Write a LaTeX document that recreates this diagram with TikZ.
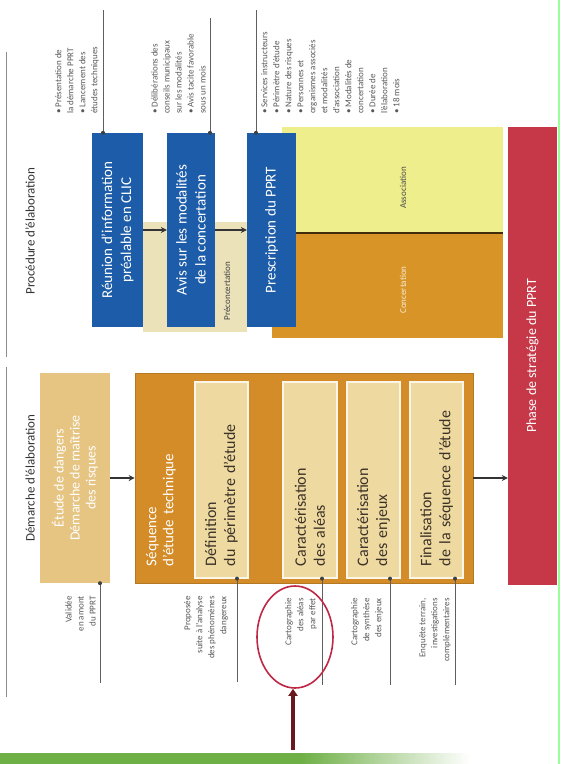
\documentclass[tikz,border=0pt]{standalone}
\usepackage{fontspec}
\setmainfont{Carlito}
\usetikzlibrary{arrows.meta,shapes.geometric}

\definecolor{pblue}{RGB}{28,92,168}
\definecolor{strip}{RGB}{236,226,186}
\definecolor{assoc}{RGB}{238,238,140}
\definecolor{conc}{RGB}{216,148,38}
\definecolor{redc}{RGB}{198,55,72}
\definecolor{etudec}{RGB}{230,196,130}
\definecolor{seqc}{RGB}{212,140,40}
\definecolor{inbeige}{RGB}{238,218,160}
\definecolor{grn}{RGB}{110,175,70}
\definecolor{circred}{RGB}{190,40,70}
\definecolor{darkred}{RGB}{105,25,30}
\definecolor{ink}{RGB}{60,50,40}
\definecolor{callgray}{RGB}{95,95,95}

\tikzset{
  title/.style={rotate=90, font=\fontsize{13}{15}\selectfont, text=black!80, inner sep=0pt},
  bluebox/.style={rotate=90, fill=pblue, text=white, align=center, inner sep=2pt,
    font=\fontsize{15}{19}\selectfont},
  redbox/.style={rotate=90, fill=redc, text=white, align=center, inner sep=2pt,
    font=\fontsize{14}{17}\selectfont},
  etudebox/.style={rotate=90, fill=etudec, text=white, align=center, inner sep=2pt,
    font=\fontsize{14}{16}\selectfont},
  seqbox/.style={fill=seqc, draw=seqc!85!black, line width=0.6pt, inner sep=0pt},
  seqtitle/.style={rotate=90, text=white, align=left, inner sep=0pt,
    font=\fontsize{15}{17}\selectfont},
  inbox/.style={rotate=90, fill=inbeige, draw=white!75!inbeige, line width=1.2pt,
    text=ink, align=left, text width=172pt, inner sep=2pt,
    font=\fontsize{16}{19}\selectfont},
  zonelabel/.style={rotate=90, inner sep=0pt, font=\fontsize{9}{11}\selectfont},
  ctext/.style={rotate=90, text=black!65, inner sep=0pt,
    font=\fontsize{9}{12}\selectfont},
  call/.style={draw=callgray, line width=0.6pt},
  dot/.style={fill=black!75},
  arr/.style={draw=black!80, line width=1.6pt, -{Stealth[length=6pt,width=6pt]}},
  redarr/.style={draw=darkred, line width=3.5pt, -{Triangle[length=7pt,width=9pt]}},
  sideline/.style={draw=black!45, line width=0.8pt}
}

\begin{document}
\begin{tikzpicture}[x=1pt,y=-1pt]
\useasboundingbox (0,0) rectangle (563,764);
\fill[white] (0,0) rectangle (563,764);

% page frame: side rule, green edge and bottom band
\draw[sideline] (6,52) -- (6,357);
\draw[sideline] (6,367) -- (6,697);
\draw[green!40, line width=1.2pt] (559,0) -- (559,764);
\fill[grn] (0,753) rectangle (300,764);
\shade[left color=grn, right color=white] (300,753) rectangle (470,764);

% section titles
\node[title] (tproc) at (30,231) {Procédure d'élaboration};
\node[title] (tdem) at (30,478) {Démarche d'élaboration};

% procedure: background zones
\fill[strip] (143,222) rectangle (247,332);
\fill[assoc] (282,127) rectangle (503,233);
\fill[conc] (272,233) rectangle (503,338);
\draw[draw=black!70!conc, line width=1.2pt] (296,233) -- (503,233);
\node[zonelabel, text=black!70] (lassoc) at (403,188) {Association};
\node[zonelabel, text=white!80!conc] (lconc) at (403,290) {Concertation};

% procedure: steps
\node[bluebox, minimum width=194, minimum height=51] (b1) at (117.5,230)
  {Réunion d'information\\préalable en CLIC};
\node[bluebox, minimum width=194, minimum height=48] (b2) at (191,230)
  {Avis sur les modalités\\de la concertation};
\node[bluebox, minimum width=194, minimum height=49] (b3) at (271.5,230)
  {Prescription du PPRT};
\node[zonelabel, text=black!75] (lpre) at (227,291) {Préconcertation};
\draw[arr] (b1.south) -- (b2.north);
\draw[arr] (b2.south) -- (b3.north);

% strategy phase
\node[redbox, minimum width=458, minimum height=49] (red) at (532.5,356)
  {Phase de stratégie du PPRT};

% demarche: hazard study and technical sequence
\node[etudebox, minimum width=210, minimum height=70] (etude) at (75,478)
  {Étude de dangers\\Démarche de maîtrise\\des risques};
\node[seqbox, minimum width=338, minimum height=210] (seq) at (304,478) {};
\node[seqtitle, text width=150pt] (tseq) at (161,491) {Séquence\\d'étude technique};
\node[inbox, minimum width=196, minimum height=53] (i1) at (221.5,480)
  {Définition\\du périmètre d'étude};
\node[inbox, minimum width=196, minimum height=54] (i2) at (310,480)
  {Caractérisation\\des aléas};
\node[inbox, minimum width=196, minimum height=53] (i3) at (373.5,480)
  {Caractérisation\\des enjeux};
\node[inbox, minimum width=196, minimum height=53] (i4) at (436.5,480)
  {Finalisation\\de la séquence d'étude};
\draw[arr] (etude.south) -- (seq.west);
\draw[arr] (seq.east) -- (seq.east -| red.north);

% callouts above the procedure steps
\coordinate (k1) at (103,10);
\coordinate (k2) at (210,18);
\coordinate (k3) at (256,10);
\draw[call] (k1) -- (k1 |- b1.east);
\draw[call] (k2) -- (k2 |- b2.east);
\draw[call] (k3) -- (k3 |- b3.east);
\fill[dot] (k1 |- b1.east) circle (2);
\fill[dot] (k2 |- b2.east) circle (2);
\fill[dot] (k3 |- b3.east) circle (2);
\node[ctext, anchor=south west, align=left] (n1) at (99,114)
  {• Présentation de\\la démarche PPRT\\• Lancement des\\études techniques};
\node[ctext, anchor=south west, align=left] (n2) at (206,114)
  {• Délibérations des\\conseils municipaux\\sur les modalités\\• Avis tacite favorable\\sous un mois};
\node[ctext, anchor=north west, align=left] (n3) at (261,114)
  {• Services instructeurs\\• Périmètre d'étude\\• Nature des risques\\• Personnes et\\organismes associés\\et modalités\\d'association\\• Modalités de\\concertation\\• Durée de\\l'élaboration\\• 18 mois};

% callouts below the study steps
\coordinate (m1) at (100,683);
\coordinate (m2) at (237,682);
\coordinate (m3) at (322,685);
\coordinate (m4) at (390,685);
\coordinate (m5) at (455,685);
\draw[call] (m1 |- etude.west) -- (m1);
\draw[call] (m2 |- i1.west) -- (m2);
\draw[call] (m3 |- i2.west) -- (m3);
\draw[call] (m4 |- i3.west) -- (m4);
\draw[call] (m5 |- i4.west) -- (m5);
\fill[dot] (m1 |- etude.west) circle (2);
\fill[dot] (m2 |- i1.west) circle (2);
\fill[dot] (m3 |- i2.west) circle (2);
\fill[dot] (m4 |- i3.west) circle (2);
\fill[dot] (m5 |- i4.west) circle (2);
\node[ctext, anchor=south east, align=right] (s1) at (96,596)
  {Validée\\en amont\\du PPRT};
\node[ctext, anchor=south east, align=right] (s2) at (228,596)
  {Proposée\\suite à l'analyse\\des phénomènes\\dangereux};
\node[ctext, anchor=south east, align=right] (s3) at (317,598)
  {Cartographie\\des aléas\\par effet};
\node[ctext, anchor=south east, align=right] (s4) at (383,598)
  {Cartographie\\de synthèse\\des enjeux};
\node[ctext, anchor=south east, align=right] (s5) at (451,598)
  {Enquête terrain,\\investigations\\complémentaires};

% highlight on the hazard map
\node[ellipse, draw=circred, line width=1.6pt, minimum width=76, minimum height=102] (circ) at (295,637) {};
\coordinate (ar) at (293,750);
\draw[redarr] (ar) -- (ar |- circ.south);
\end{tikzpicture}
\end{document}
